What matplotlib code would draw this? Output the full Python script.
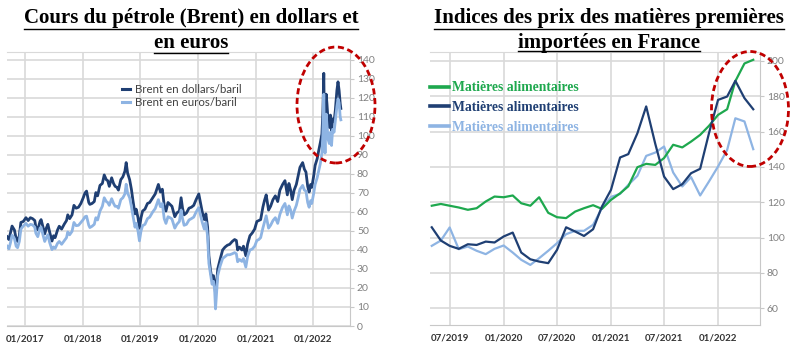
import matplotlib
matplotlib.use('Agg')
import matplotlib.pyplot as plt
import matplotlib.dates as mdates
from matplotlib.patches import Ellipse
from matplotlib.lines import Line2D
import pandas as pd

# Brent (left chart): dates, dollars/baril, euros/baril
brent_dates = [
    '2016-09-09', '2016-09-20', '2016-09-30', '2016-10-10', '2016-10-25', '2016-11-05',
    '2016-11-14', '2016-11-25', '2016-12-05', '2016-12-20', '2017-01-06', '2017-01-20',
    '2017-02-03', '2017-02-17', '2017-03-03', '2017-03-10', '2017-03-22', '2017-04-05',
    '2017-04-12', '2017-04-25', '2017-05-05', '2017-05-15', '2017-05-25', '2017-06-05',
    '2017-06-20', '2017-06-30', '2017-07-10', '2017-07-25', '2017-08-05', '2017-08-20',
    '2017-09-05', '2017-09-20', '2017-09-28', '2017-10-10', '2017-10-25', '2017-11-06',
    '2017-11-20', '2017-12-05', '2017-12-20', '2018-01-04', '2018-01-15', '2018-01-25',
    '2018-02-08', '2018-02-15', '2018-03-01', '2018-03-15', '2018-03-25', '2018-04-05',
    '2018-04-20', '2018-05-05', '2018-05-17', '2018-05-30', '2018-06-08', '2018-06-18',
    '2018-07-03', '2018-07-15', '2018-07-25', '2018-08-05', '2018-08-15', '2018-08-30',
    '2018-09-12', '2018-09-25', '2018-10-03', '2018-10-12', '2018-10-25', '2018-11-05',
    '2018-11-15', '2018-11-28', '2018-12-05', '2018-12-17', '2018-12-26', '2019-01-05',
    '2019-01-15', '2019-01-30', '2019-02-15', '2019-03-01', '2019-03-20', '2019-04-05',
    '2019-04-25', '2019-05-08', '2019-05-20', '2019-06-01', '2019-06-12', '2019-06-25',
    '2019-07-08', '2019-07-20', '2019-08-07', '2019-08-20', '2019-09-05', '2019-09-16',
    '2019-09-25', '2019-10-05', '2019-10-20', '2019-11-05', '2019-11-20', '2019-12-05',
    '2019-12-20', '2020-01-06', '2020-01-15', '2020-01-28', '2020-02-10', '2020-02-20',
    '2020-03-02', '2020-03-10', '2020-03-20', '2020-03-30', '2020-04-08', '2020-04-15',
    '2020-04-21', '2020-04-27', '2020-05-05', '2020-05-20', '2020-06-05', '2020-06-20',
    '2020-07-05', '2020-07-20', '2020-08-05', '2020-08-20', '2020-08-31', '2020-09-08',
    '2020-09-20', '2020-10-05', '2020-10-15', '2020-10-30', '2020-11-10', '2020-11-25',
    '2020-12-10', '2020-12-25', '2021-01-08', '2021-01-20', '2021-02-01', '2021-02-15',
    '2021-02-25', '2021-03-08', '2021-03-23', '2021-04-05', '2021-04-20', '2021-05-05',
    '2021-05-20', '2021-06-03', '2021-06-20', '2021-07-05', '2021-07-20', '2021-07-30',
    '2021-08-10', '2021-08-20', '2021-09-01', '2021-09-15', '2021-09-28', '2021-10-08',
    '2021-10-25', '2021-11-05', '2021-11-15', '2021-11-26', '2021-12-05', '2021-12-15',
    '2021-12-22', '2022-01-03', '2022-01-12', '2022-01-25', '2022-02-03', '2022-02-14',
    '2022-02-24', '2022-03-02', '2022-03-08', '2022-03-11', '2022-03-16', '2022-03-23',
    '2022-03-28', '2022-04-05', '2022-04-12', '2022-04-19', '2022-04-26', '2022-05-03',
    '2022-05-12', '2022-05-20', '2022-05-30', '2022-06-06', '2022-06-13', '2022-06-20',
    '2022-06-24',
]
brent_usd = [
    47.0, 45.5, 49.0, 52.6, 50.5, 46.0, 44.5, 47.5, 54.5, 55.0, 57.0, 55.5,
    57.0, 56.5, 55.5, 52.0, 50.6, 55.0, 56.0, 51.8, 48.5, 51.5, 53.5, 49.5,
    44.7, 47.5, 46.5, 50.5, 52.5, 51.0, 53.5, 55.5, 58.5, 56.5, 58.5, 63.5,
    62.0, 62.5, 64.5, 67.5, 70.0, 71.0, 65.0, 64.0, 64.5, 65.5, 70.2, 68.5,
    74.0, 75.0, 79.5, 77.0, 76.5, 73.5, 78.0, 75.0, 73.5, 73.0, 71.5, 77.0,
    78.5, 81.5, 86.0, 80.5, 77.0, 72.0, 66.0, 59.0, 61.5, 57.0, 51.5, 57.0,
    60.5, 61.5, 64.5, 65.0, 67.5, 69.5, 74.5, 70.5, 72.0, 63.5, 60.5, 65.0,
    64.0, 63.0, 57.5, 59.5, 60.5, 67.5, 62.0, 58.5, 59.5, 62.0, 62.5, 63.5,
    66.5, 69.5, 65.5, 60.0, 56.0, 59.0, 52.0, 37.0, 29.5, 24.5, 26.5, 22.5,
    17.0, 21.0, 30.0, 35.0, 40.0, 41.5, 42.5, 43.0, 44.5, 45.5, 45.0, 40.0,
    41.5, 40.0, 42.0, 37.0, 43.0, 47.5, 49.0, 51.0, 55.0, 55.5, 56.0, 62.5,
    66.0, 69.0, 61.0, 63.0, 66.5, 68.5, 65.5, 71.5, 74.5, 76.5, 69.0, 75.0,
    71.5, 66.5, 71.5, 74.5, 79.5, 83.5, 86.0, 82.5, 81.0, 73.5, 70.5, 74.5,
    73.0, 79.0, 84.5, 88.0, 92.0, 96.5, 101.0, 112.0, 133.0, 112.0, 99.0, 122.0,
    117.0, 107.0, 104.5, 111.0, 102.0, 109.0, 107.5, 113.5, 124.0, 128.5, 124.0, 117.0,
    114.5,
]
brent_eur = [
    42.0, 40.6, 43.8, 47.8, 46.0, 42.0, 41.2, 44.5, 51.0, 52.6, 54.0, 52.5,
    53.5, 53.2, 52.0, 48.8, 47.0, 51.5, 52.0, 47.6, 44.5, 46.5, 48.0, 44.0,
    40.2, 41.6, 40.8, 43.5, 44.5, 43.0, 44.8, 46.5, 49.5, 48.0, 49.8, 54.5,
    52.8, 53.0, 54.5, 56.0, 57.5, 57.8, 53.0, 51.8, 52.5, 53.5, 57.0, 55.8,
    60.5, 63.0, 67.5, 65.5, 65.0, 63.5, 67.0, 64.5, 63.0, 63.0, 62.0, 66.5,
    67.5, 69.5, 74.6, 70.0, 67.5, 63.0, 58.0, 52.0, 54.0, 50.0, 44.8, 50.0,
    52.8, 53.5, 56.5, 57.3, 60.0, 61.8, 66.5, 62.8, 64.5, 56.5, 54.0, 57.5,
    57.0, 56.3, 51.5, 53.5, 55.0, 61.0, 56.5, 53.0, 53.5, 55.8, 56.5, 57.3,
    60.0, 62.3, 59.0, 54.5, 51.0, 54.5, 47.0, 33.0, 27.5, 22.0, 23.5, 19.5,
    9.0, 16.5, 26.5, 31.5, 35.5, 36.5, 37.5, 37.5, 38.0, 38.6, 38.0, 33.8,
    35.0, 34.0, 35.5, 31.0, 36.5, 40.0, 40.5, 42.0, 45.0, 45.5, 46.5, 51.5,
    54.5, 58.0, 51.5, 53.0, 55.5, 57.0, 54.0, 58.8, 62.5, 64.5, 58.5, 63.2,
    61.0, 56.8, 60.5, 63.5, 68.0, 72.0, 74.0, 71.5, 71.0, 65.0, 62.5, 66.0,
    64.5, 69.8, 74.5, 78.0, 81.5, 85.5, 91.0, 100.5, 122.0, 102.5, 91.0, 111.5,
    106.0, 98.0, 96.0, 102.0, 95.0, 103.5, 102.0, 108.0, 115.5, 119.5, 117.5, 110.0,
    108.5,
]

# Indices des prix des matieres premieres importees (right chart), monthly
idx_start = '2019-05-01'
idx_green = [
    118.0, 119.0, 118.0, 117.0, 115.7, 116.6, 120.4, 123.2, 122.8, 123.8, 119.4, 118.0,
    122.8, 114.0, 111.5, 111.0, 114.7, 116.6, 118.3, 116.2, 121.3, 125.0, 129.0, 139.8,
    141.7, 141.1, 145.0, 152.5, 151.0, 154.3, 158.1, 163.2, 169.4, 172.6, 188.5, 198.5,
    200.6,
]
idx_navy = [
    105.8, 98.3, 95.3, 93.6, 96.2, 95.8, 97.7, 97.2, 100.6, 102.8, 91.5, 87.7,
    86.4, 85.5, 93.0, 105.8, 103.4, 100.9, 104.7, 117.5, 127.0, 145.3, 147.2, 159.0,
    174.2, 153.0, 134.5, 127.4, 130.2, 136.4, 138.9, 159.0, 177.9, 179.8, 188.7, 178.9,
    172.6,
]
idx_light = [
    95.3, 98.3, 105.7, 93.4, 94.9, 92.5, 90.6, 93.6, 95.5, 91.5, 87.4, 84.5,
    88.3, 92.5, 96.8, 101.9, 103.8, 103.8, 107.2, 116.6, 123.0, 124.7, 129.8, 134.9,
    146.2, 148.1, 151.5, 136.8, 128.9, 134.2, 123.8, 131.7, 140.2, 149.6, 167.5, 165.7,
    150.0,
]
idx_labels = ['Matières alimentaires', 'Matières alimentaires', 'Matières alimentaires']

NAVY = '#1f3f73'
LIGHT = '#8eb4e3'
GREEN = '#1ea84e'
GRID = '#d9d9d9'
W, H = 810, 355


def fx(px):
    return px / W


def fy(py):
    return 1 - py / H


def style_axis(ax):
    ax.spines['left'].set_visible(False)
    ax.spines['top'].set_color(GRID)
    ax.spines['right'].set_color('#c8c8c8')
    ax.spines['bottom'].set_color('#c8c8c8')
    ax.yaxis.tick_right()
    ax.tick_params(axis='y', colors='#c8c8c8', labelcolor='#808080', labelsize=7.5,
                   length=3, pad=2)
    ax.tick_params(axis='x', length=0, labelsize=7, labelcolor='#333333', pad=6)
    ax.grid(True, color=GRID, lw=1.2)
    ax.set_axisbelow(True)
    ax.xaxis.set_major_formatter(mdates.DateFormatter('%m/%Y'))


plt.rcParams['font.family'] = ['Lato', 'DejaVu Sans']
fig = plt.figure(figsize=(8.1, 3.55), dpi=100)

# ---- left: Brent
ax1 = fig.add_axes([fx(7), fy(326), fx(350) - fx(7), fy(52) - fy(326)])
d = pd.to_datetime(brent_dates)
ax1.plot(d, brent_usd, color=NAVY, lw=2.0, label='Brent en dollars/baril')
ax1.plot(d, brent_eur, color=LIGHT, lw=2.0, label='Brent en euros/baril')
ax1.set_ylim(0, 144.2)
ax1.set_yticks(range(0, 141, 10))
ax1.set_xlim(pd.Timestamp('2016-09-08'), pd.Timestamp('2022-08-21'))
ax1.set_xticks(pd.to_datetime(['2017-01-01', '2018-01-01', '2019-01-01',
                               '2020-01-01', '2021-01-01', '2022-01-01']))
style_axis(ax1)
for lab in ax1.get_xticklabels():
    lab.set_fontweight('bold')
leg1 = ax1.legend(loc='upper left', bbox_to_anchor=(0.318, 0.905), frameon=False,
                  fontsize=8.3, handlelength=0.75, handletextpad=0.35,
                  labelspacing=0.22, borderpad=0, labelcolor='#404040')
for h in leg1.get_lines():
    h.set_linewidth(2.2)

# ---- right: indices
ax2 = fig.add_axes([fx(430), fy(325), fx(760) - fx(430), fy(52) - fy(325)])
m = pd.date_range(idx_start, periods=len(idx_green), freq='MS')
ax2.plot(m, idx_light, color=LIGHT, lw=1.6, label=idx_labels[2])
ax2.plot(m, idx_green, color=GREEN, lw=1.6, label=idx_labels[0])
ax2.plot(m, idx_navy, color=NAVY, lw=1.6, label=idx_labels[1])
ax2.set_ylim(50.5, 205)
ax2.set_yticks(range(60, 201, 20))
ax2.set_xlim(pd.Timestamp('2019-04-25'), pd.Timestamp('2022-05-24'))
ax2.set_xticks(pd.to_datetime(['2019-07-01', '2020-01-01', '2020-07-01',
                               '2021-01-01', '2021-07-01', '2022-01-01']))
style_axis(ax2)
for lab in ax2.get_xticklabels():
    lab.set_fontweight('bold')
hs, ls = ax2.get_legend_handles_labels()
order = [1, 2, 0]
leg2 = ax2.legend([hs[i] for i in order], [ls[i] for i in order], loc='upper left',
                  bbox_to_anchor=(0.0, 0.892), frameon=False,
                  prop={'family': 'Liberation Serif', 'weight': 'bold', 'size': 9.8},
                  handlelength=1.4, handletextpad=0.25, labelspacing=0.48,
                  borderpad=0, borderaxespad=0, labelcolor='linecolor')
for h in leg2.get_lines():
    h.set_linewidth(2.6)

# ---- titles with underline
title_font = dict(family='Liberation Serif', weight='bold', size=15, color='black',
                  ha='center', va='center')
titles = [
    (191, 18, 'Cours du pétrole (Brent) en dollars et', 29.0),
    (191, 43, 'en euros', 52.5),
    (609, 18, 'Indices des prix des matières premières', 29.0),
    (609, 43, 'importées en France', 51.0),
]
texts = []
for x, y, s, uy in titles:
    texts.append((fig.text(fx(x), fy(y), s, **title_font), uy))
fig.canvas.draw()
r = fig.canvas.get_renderer()
for t, uy in texts:
    bb = t.get_window_extent(r)
    fig.add_artist(Line2D([bb.x0 / W, bb.x1 / W], [fy(uy), fy(uy)],
                          transform=fig.transFigure, color='black', lw=1.0))

# ---- red dashed ellipses
for cx, cy, w, h in [(336, 105, 78, 116), (750, 109, 77, 115)]:
    fig.add_artist(Ellipse((fx(cx), fy(cy)), w / W, h / H, transform=fig.transFigure,
                           fill=False, ec='#c00000', lw=2, ls=(0, (2.2, 1.3)), zorder=10))

fig.savefig('out.png', dpi=100)
